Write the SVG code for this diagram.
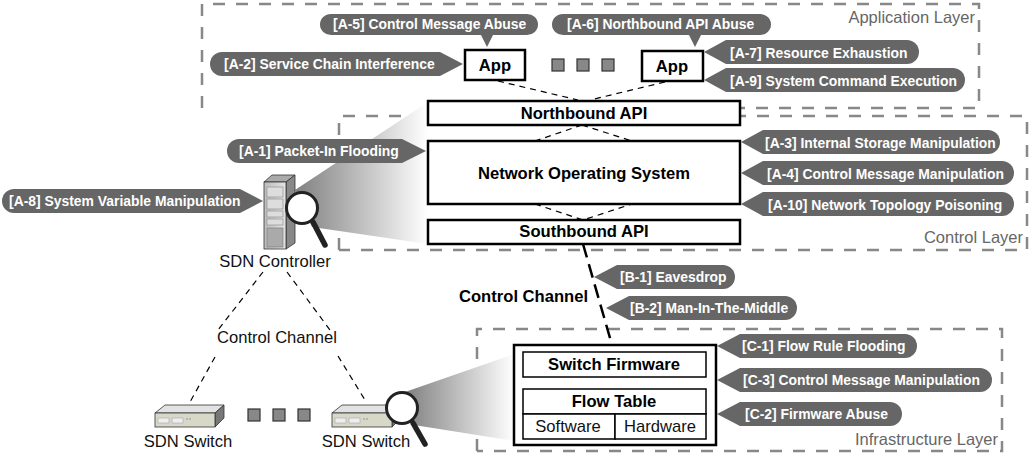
<svg xmlns="http://www.w3.org/2000/svg" width="1032" height="457" viewBox="0 0 1032 457">
<style>
text{font-family:"Liberation Sans",Arial,sans-serif}
.layer{fill:none;stroke:#888;stroke-width:2.5;stroke-dasharray:12 11}
.layerlabel{font-size:16.5px;fill:#666;text-anchor:end}
.pill{fill:#666}
.pilltext{font-size:13.9px;font-weight:bold;fill:#fff}
.box{fill:#fff;stroke:#000;stroke-width:2.5}
.thin{fill:#fff;stroke:#000;stroke-width:1.5}
.bold{font-size:16.6px;font-weight:bold;fill:#000;text-anchor:middle}
.reg{font-size:16.6px;fill:#111;text-anchor:middle}
.dash{fill:none;stroke:#000;stroke-width:1.2;stroke-dasharray:6 5}
.thick{fill:none;stroke:#000;stroke-width:2.5;stroke-dasharray:14 7}
.sq{fill:#888;stroke:#333;stroke-width:1.2}
.lens{fill:#fff;stroke:#222;stroke-width:3}
.handle{stroke:#222;stroke-width:5.5;stroke-linecap:round}
.dev{stroke:#333;stroke-width:.8}
.slot{fill:#ddd;stroke:#777;stroke-width:.5}
</style>
<defs>
<linearGradient id="fade" x1="0" x2="1" y1="0" y2="0"><stop offset="0" stop-color="#808080"/><stop offset="1" stop-color="#fff"/></linearGradient>
<linearGradient id="srv" x1="0" x2="1" y1="0" y2="0"><stop offset="0" stop-color="#bbb"/><stop offset="1" stop-color="#e4e4e4"/></linearGradient>
<g id="switchicon">
<path class="dev" fill="#e2e2e2" d="M155 413L165 405H224L215 413Z"/>
<path class="dev" fill="#777" d="M215 413L224 405V418L215 427Z"/>
<rect class="dev" x="155" y="413" width="60" height="14" fill="#d8d8c8"/>
<rect x="158" y="418" width="11" height="5" fill="#eee" stroke="#999" stroke-width=".5"/>
<rect x="172" y="418" width="11" height="5" fill="#eee" stroke="#999" stroke-width=".5"/>
<circle cx="187" cy="419" r=".8" fill="#888"/><circle cx="190" cy="419" r=".8" fill="#888"/>
</g>
</defs>
<g id="layers">
<path class="layer" d="M202 108V4H979V108H428"/>
<path class="layer" d="M339 250V116H1027V250H339"/>
<path class="layer" d="M477 451V329H1002V451H477"/>
<text class="layerlabel" x="975" y="23">Application Layer</text>
<text class="layerlabel" x="1023" y="243">Control Layer</text>
<text class="layerlabel" x="998" y="445">Infrastructure Layer</text>
</g>
<g id="wedges">
<path fill="url(#fade)" d="M295 190L428 102V244L312 227Z"/>
<path fill="url(#fade)" d="M405 392L514 354V441L414 425Z"/>
</g>
<g id="connectors">
<path class="dash" d="M498 81L578 100M665 82L590 100M582 125L535 141M582 125L632 141M535 204L583 220L632 204"/>
<path class="thick" d="M583 244L612 345"/>
<path class="dash" d="M263 272L218 330M215 357L190 402M287 272L330 330M338 356L365 400"/>
</g>
<g id="app1"><rect class="box" x="465" y="50" width="60" height="30"/><text class="bold" x="495" y="71">App</text></g>
<g id="app2"><rect class="box" x="642" y="51" width="61" height="30"/><text class="bold" x="672" y="72">App</text></g>
<g id="dots-app"><rect class="sq" x="552" y="59" width="12" height="12"/><rect class="sq" x="577" y="59" width="12" height="12"/><rect class="sq" x="602" y="59" width="12" height="12"/></g>
<g id="northbound"><rect class="box" x="428" y="101" width="312" height="24"/><text class="bold" x="584" y="119">Northbound API</text></g>
<g id="nos"><rect class="box" x="428" y="141" width="312" height="63"/><text class="bold" x="584" y="179">Network Operating System</text></g>
<g id="southbound"><rect class="box" x="428" y="220" width="312" height="24"/><text class="bold" x="584" y="237">Southbound API</text></g>
<g id="attacks">
<path class="pill" d="M331 14H527A11 10.500 0 0 1 527 35H493L487 47L481 35H331A11 10.500 0 0 1 331 14Z"/><text class="pilltext" x="333" y="29">[A-5] Control Message Abuse</text>
<path class="pill" d="M563 14H760A11 10.500 0 0 1 760 35H701L695 47L689 35H563A11 10.500 0 0 1 563 14Z"/><text class="pilltext" x="567" y="29">[A-6] Northbound API Abuse</text>
<path class="pill" d="M222 52H440L463 64L440 76H222A12 12 0 0 1 222 52Z"/><text class="pilltext" x="224" y="69">[A-2] Service Chain Interference</text>
<path class="pill" d="M704 52L726 40H907A12 12 0 0 1 907 64H726Z"/><text class="pilltext" x="730" y="58">[A-7] Resource Exhaustion</text>
<path class="pill" d="M704 80L726 68H953A12 12 0 0 1 953 92H726Z"/><text class="pilltext" x="730" y="86">[A-9] System Command Execution</text>
<path class="pill" d="M239 139H402L426 151L402 163H239A12 12 0 0 1 239 139Z"/><text class="pilltext" x="239" y="156">[A-1] Packet-In Flooding</text>
<path class="pill" d="M14 189H240L263 201L240 213H14A12 12 0 0 1 14 189Z"/><text class="pilltext" x="9" y="206">[A-8] System Variable Manipulation</text>
<path class="pill" d="M741 142L763 130H988A12 12 0 0 1 988 154H763Z"/><text class="pilltext" x="765" y="148">[A-3] Internal Storage Manipulation</text>
<path class="pill" d="M741 173L763 161H1002A12 12 0 0 1 1002 185H763Z"/><text class="pilltext" x="767" y="179">[A-4] Control Message Manipulation</text>
<path class="pill" d="M741 204L763 192H1002A12 12 0 0 1 1002 216H763Z"/><text class="pilltext" x="768" y="210">[A-10] Network Topology Poisoning</text>
<path class="pill" d="M594 277L617 265H723A12 12 0 0 1 723 289H617Z"/><text class="pilltext" x="620" y="282">[B-1] Eavesdrop</text>
<path class="pill" d="M606 308L629 296H785A12 12 0 0 1 785 320H629Z"/><text class="pilltext" x="630" y="313">[B-2] Man-In-The-Middle</text>
<path class="pill" d="M717 346L740 334H905A12 12 0 0 1 905 358H740Z"/><text class="pilltext" x="742" y="351">[C-1] Flow Rule Flooding</text>
<path class="pill" d="M717 380L740 368H980A12 12 0 0 1 980 392H740Z"/><text class="pilltext" x="743" y="385">[C-3] Control Message Manipulation</text>
<path class="pill" d="M717 414L740 402H890A12 12 0 0 1 890 426H740Z"/><text class="pilltext" x="745" y="419">[C-2] Firmware Abuse</text>
</g>
<text id="cc-label" x="459" y="302" font-size="16.600" font-weight="bold" fill="#000">Control Channel</text>
<g id="switch-detail">
<rect class="box" x="514" y="345" width="202" height="100"/>
<rect class="thin" x="523" y="352" width="183" height="25"/><text class="bold" x="614" y="370">Switch Firmware</text>
<rect class="thin" x="523" y="389" width="183" height="25"/><text class="bold" x="614" y="407">Flow Table</text>
<rect class="thin" x="523" y="414" width="92" height="25"/><text class="reg" x="568" y="432">Software</text>
<rect class="thin" x="615" y="414" width="91" height="25"/><text class="reg" x="660" y="432">Hardware</text>
</g>
<g id="controller">
<path class="dev" fill="#aaa" d="M264 182L272 175H295L286 182Z"/>
<path class="dev" fill="#888" d="M286 182L295 175V243L286 249Z"/>
<rect class="dev" x="264" y="182" width="22" height="67" fill="url(#srv)"/>
<rect class="slot" x="267" y="187" width="16" height="10"/>
<rect class="slot" x="267" y="199" width="16" height="10"/>
<rect class="slot" x="267" y="211" width="16" height="6"/>
<rect class="slot" x="267" y="219" width="16" height="6"/>
<rect x="267" y="228" width="16" height="19" fill="#aaa" stroke="#777" stroke-width=".6"/>
<path class="handle" d="M313 222L325 245"/>
<circle class="lens" cx="302" cy="208" r="15.500"/>
<text class="reg" x="275" y="267">SDN Controller</text>
</g>
<text id="channel-label" class="reg" x="277" y="343">Control Channel</text>
<g id="switch1"><use href="#switchicon"/><text class="reg" x="188" y="447">SDN Switch</text></g>
<g id="dots-switch"><rect class="sq" x="248" y="409" width="12" height="12"/><rect class="sq" x="273" y="409" width="12" height="12"/><rect class="sq" x="298" y="409" width="12" height="12"/></g>
<g id="switch2"><use href="#switchicon" x="177"/>
<path class="handle" d="M413 423L425 444"/>
<circle class="lens" cx="402" cy="408" r="15.500"/>
<text class="reg" x="366" y="447">SDN Switch</text></g>
</svg>
